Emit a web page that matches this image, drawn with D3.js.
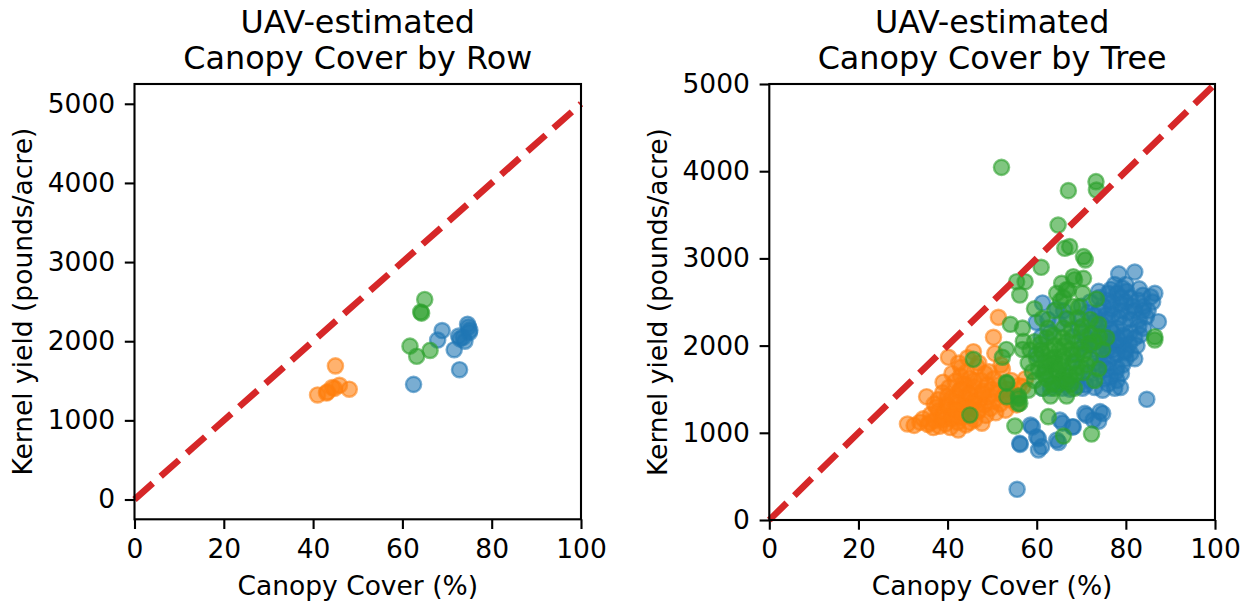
<!DOCTYPE html>
<html>
<head>
<meta charset="utf-8">
<script src="https://cdn.jsdelivr.net/npm/d3@7"></script>
<style>
  html, body { margin: 0; padding: 0; background: #fff; }
  svg { display: block; font-family: "DejaVu Sans", sans-serif; }
</style>
</head>
<body>
<svg id="chart" width="1249" height="607"></svg>
<script>
// ---------------- DATA ----------------
const xTicks = [0, 20, 40, 60, 80, 100];
const yTicks = [0, 1000, 2000, 3000, 4000, 5000];
const oneToOneLine = [[0, 0], [100, 5000]];

// Left panel: canopy cover by row
const rowBlue = [[68.9,2135],[67.9,2015],[71.6,1893],[72.8,1640],[62.5,1455],[74.8,2180],[74.0,2000],[72.6,2065],[73.6,2050],[75.1,2140],[74.6,2215],[72.9,2030],[75.0,2110]];
const rowOrange = [[45.0,1688],[41.0,1321],[43.2,1360],[44.3,1415],[45.9,1443],[48.1,1394],[43.0,1345],[44.8,1404]];
const rowGreen = [[65.0,2527],[64.1,2370],[64.3,2355],[61.7,1938],[63.2,1810],[66.2,1884]];

// Right panel: canopy cover by tree
const treeBlue = [
  [55.6,352],[56.2,879],[58.6,1089],[60.0,955],[60.4,803],[61.1,841],[64.5,917],[65.2,1147],[68.2,1070],
  [70.8,1223],[74.2,1243],[72.7,1147],[84.7,1384],[59.0,1067],[60.4,933],[64.9,889],[65.8,1111],[68.0,1067],
  [71.2,1200],[74.8,1222],[73.9,1133],[56.3,867],
  [78.4,2822],[82.0,2844],[86.5,2600],[85.6,2560],[87.3,2274],[81.1,1911],[77.5,1511],[74.8,1489],[70.3,1511],
  [61.3,1511],[59.9,2267],[61.3,2489],[73.9,2622],[76.6,2644],[80.2,2622],[83.8,2578],[83.8,2400],[82.9,2222],
  [82.0,2089],[78.4,2000],[75.7,1733],[76.6,1644],[79.3,1778],[71.6,1689],[68.5,1600],[65.8,1511],[63.1,1511],
  [72.0,2000],[73.0,2200],[74.0,2400],[75.0,2100],[76.0,2300],[77.0,2500],[78.0,2200],[79.0,2400],[80.0,2100],
  [81.0,2300],[77.0,1950],[79.0,2000],[75.0,1850],[73.0,1800],[71.0,2100],[70.0,2300],[74.0,2550],[76.0,2050],
  [78.0,2600],[80.0,2500],[82.0,2400],[81.0,2550],[83.0,2300],[84.0,2450],[76.0,1800],[78.0,1750],[80.0,1850],
  [74.0,1700],[72.0,1600],[70.0,1750],[69.0,1900],[68.0,2100],[67.0,2300],[66.0,2400],[65.0,2250],[63.0,2150],
  [61.0,2100],[60.0,1900],[62.0,1700],[64.0,1550],[66.0,1650],[68.0,1800],[71.0,1550],[73.0,1520],[76.0,1560],
  [78.0,1600],[79.0,1680],[77.0,2150],[75.0,2450],[73.0,2350],[79.5,2250],[81.0,2150],[82.5,2000],[84.0,2200],
  [85.0,2400],[86.0,2500],[83.0,2650],[80.0,2700],[77.5,2700],[76.0,2600],[72.0,2500],[70.0,2450],[71.0,1950],
  [74.0,1900],[78.0,1900],[80.0,1950],[82.0,1850],[75.5,2000],[73.5,2050],[77.0,2350],[79.0,2550],
  [74.5,2250],[76.5,2180],[78.5,2320],[80.5,2380],[77.5,2050],[75.5,2350],[79.5,2120],[81.5,2450],[76.8,2420],
  [78.8,2480],[73.2,2280],[74.8,2150],[77.2,1880],[79.8,1920],[72.5,2150],[75.8,1950],[80.8,2020],[83.2,2120],
  [76.2,2520],[78.2,2080],[73.8,1980],[71.5,2380],[69.5,2200],[70.8,2020],[82.8,2520],[84.6,2330],[79.2,2660],
  [74.2,1780],[77.8,1700],[75.2,1620],[66.5,1560],[69.2,1540],[62.5,2300],[64.5,2420],[67.5,1500],[78.8,1520]
];
const treeOrange = [
  [31.0,1101],[32.5,1085],[33.8,1120],[34.5,1160],[35.3,1414],[35.6,1095],[36.2,1210],[36.8,1060],[37.1,1140],
  [37.5,1290],[37.9,1380],[38.2,1075],[38.6,1180],[38.9,1460],[39.2,1240],[39.5,1100],[39.8,1330],[40.2,1866],
  [40.3,1520],[40.6,1060],[40.9,1160],[41.1,1410],[41.4,1270],[41.7,1590],[42.0,1350],[42.3,1120],[42.4,1032],
  [42.6,1480],[42.9,1650],[43.1,1220],[43.4,1310],[43.6,1560],[43.9,1400],[44.1,1090],[44.3,1700],[44.5,1190],
  [44.8,1450],[45.0,1620],[45.2,1280],[45.5,1350],[45.8,1930],[45.9,1530],[46.1,1150],[46.4,1420],[46.6,1760],
  [46.8,1250],[47.0,1800],[47.2,1380],[47.5,1600],[47.7,1110],[47.9,1480],[48.2,1320],[48.4,1680],[48.6,1200],
  [48.9,1550],[49.1,1410],[49.3,1700],[49.6,1280],[49.9,1500],[50.1,1360],[50.3,2095],[50.4,1620],[50.6,1911],
  [50.8,1230],[51.0,1450],[51.4,2324],[51.5,1550],[51.8,1330],[52.0,1780],[52.3,1728],[52.6,1420],[53.0,1260],
  [53.3,1500],[53.8,1380],[54.3,1600],[54.8,1450],[55.5,1320],[56.0,1540],[56.9,1529],[57.5,1620],
  [38.0,1250],[39.0,1150],[40.0,1300],[41.0,1200],[42.0,1400],[43.0,1500],[44.0,1300],[45.0,1450],[46.0,1350],
  [47.0,1250],[44.0,1550],[42.0,1250],[40.0,1420],[46.0,1600],[48.0,1450],[43.0,1180],[45.0,1120],[37.0,1330],
  [36.0,1120],[39.0,1580],[41.0,1680],[43.0,1750],[44.5,1860],[42.5,1800]
];
const treeGreen = [
  [52.1,4044],[67.1,3777],[73.3,3880],[73.4,3784],[64.8,3383],[66.3,3116],[67.4,3135],[70.5,3020],[70.9,2982],
  [61.0,2898],[55.5,2733],[57.4,2733],[56.2,2580],[68.2,2790],[70.5,2771],[65.6,2714],[67.1,2637],[45.8,1843],
  [45.0,1204],[55.1,1078],[62.6,1185],[66.0,963],[72.3,986],[86.5,2102],[86.5,2064],[53.3,1567],[56.0,1395],
  [56.2,1338],[53.3,1414],
  [54.1,2244],[56.8,2200],[59.5,2422],[61.3,2311],[65.3,2511],[66.7,2644],[68.5,2756],[70.3,2600],[73.4,2533],
  [69.4,2444],[64.0,2400],[66.7,2311],[70.3,2222],[73.9,2244],[75.7,2089],[73.0,2044],[69.4,2044],[65.8,2089],
  [62.2,2089],[59.5,2044],[56.8,1956],[53.2,1956],[52.3,1867],[58.1,1800],[60.4,1733],[63.1,1778],[65.8,1822],
  [68.5,1822],[71.2,1778],[73.9,1733],[59.5,1600],[62.2,1622],[64.9,1556],[67.6,1556],[70.3,1689],[66.7,1422],
  [68.5,1511],[64.0,1511],[61.3,1511],[53.2,1578],[55.9,1422],[55.9,1333],[74.8,1956],[72.1,2133],[67.6,1956],
  [64.0,1867],[61.3,1911],[64.9,1689],[58.1,1489],[63.1,1422],
  [62.0,1750],[63.5,1850],[65.0,1950],[66.5,1700],[64.0,2000],[61.0,1950],[67.0,2050],[68.0,1900],[63.0,1650],
  [65.5,1600],[69.0,1750],[60.0,1850],[58.5,1950],[62.5,2200],[66.0,2200],[64.5,2600],[66.0,2550],[68.0,2450],
  [72.0,2300],[70.0,2150],[57.0,2050],[59.0,1700],[61.5,1680],[64.0,1800],[66.0,1880],[67.5,1650],[70.5,1900],
  [72.0,1850],[74.0,2100],[73.0,1600],
  [62.8,1950],[64.6,1720],[66.2,2000],[68.8,1680],[63.8,2120],[67.8,2180],[61.8,1820],[65.2,1780],[69.8,1960],
  [71.8,2020],[60.8,2020],[66.8,1600],[63.4,1560],[69.2,2320]
];

const seriesColors = ["#1f77b4", "#ff7f0e", "#2ca02c"];
const lineColor = "#d62728";

// ---------------- DRAW ----------------
const svg = d3.select("#chart");
const TICK = 9.7, PAD = 9.7, FS = 26.5, TFS = 31.8;

function drawPanel(cfg) {
  const x = d3.scaleLinear().domain([0, 100]).range([cfg.left, cfg.right]);
  const y = d3.scaleLinear().domain(cfg.yDomain).range([cfg.bottom, cfg.top]);
  const g = svg.append("g");

  // scatter series (blue, orange, green order)
  cfg.series.forEach((data, i) => {
    g.append("g").selectAll("circle").data(data).join("circle")
      .attr("cx", d => x(d[0])).attr("cy", d => y(d[1])).attr("r", 7.6)
      .attr("fill", seriesColors[i]).attr("fill-opacity", 0.6)
      .attr("stroke", seriesColors[i]).attr("stroke-opacity", 0.6).attr("stroke-width", 2.4);
  });

  // 1:1 dashed line
  g.append("path")
    .attr("d", d3.line().x(d => x(d[0])).y(d => y(d[1]))(oneToOneLine))
    .attr("fill", "none").attr("stroke", lineColor).attr("stroke-width", 6.6)
    .attr("stroke-dasharray", "24.4,10.6");

  // axes
  const xa = g.append("g").attr("transform", `translate(0,${cfg.bottom})`)
    .call(d3.axisBottom(x).tickValues(xTicks).tickSize(TICK).tickPadding(PAD).tickSizeOuter(0));
  const ya = g.append("g").attr("transform", `translate(${cfg.left},0)`)
    .call(d3.axisLeft(y).tickValues(yTicks).tickFormat(d3.format("d")).tickSize(TICK).tickPadding(PAD).tickSizeOuter(0));
  [xa, ya].forEach(a => {
    a.select(".domain").remove();
    a.selectAll("line").attr("stroke", "#000").attr("stroke-width", 2.1);
    a.selectAll("text").attr("fill", "#000").style("font-size", FS + "px").style("font-family", "DejaVu Sans");
  });

  // frame
  g.append("rect").attr("x", cfg.left).attr("y", cfg.top)
    .attr("width", cfg.right - cfg.left).attr("height", cfg.bottom - cfg.top)
    .attr("fill", "none").attr("stroke", "#000").attr("stroke-width", 2.1);

  const cx = (cfg.left + cfg.right) / 2;
  // titles
  cfg.title.forEach((t, i) => {
    g.append("text").attr("x", cx).attr("y", 33 + i * 36).attr("text-anchor", "middle")
      .style("font-size", TFS + "px").attr("fill", "#000").text(t);
  });
  // x label
  g.append("text").attr("x", cx).attr("y", 595).attr("text-anchor", "middle")
    .style("font-size", FS + "px").attr("fill", "#000").text("Canopy Cover (%)");
  // y label
  const cy = (cfg.top + cfg.bottom) / 2;
  g.append("text").attr("transform", `translate(${cfg.left - 102.5},${cy}) rotate(-90)`)
    .attr("text-anchor", "middle").style("font-size", FS + "px").attr("fill", "#000")
    .text("Kernel yield (pounds/acre)");
}

drawPanel({
  left: 134.5, right: 581, top: 84, bottom: 519.3, yDomain: [-250, 5250],
  series: [rowBlue, rowOrange, rowGreen],
  title: ["UAV-estimated", "Canopy Cover by Row"]
});
drawPanel({
  left: 769.3, right: 1215, top: 84, bottom: 520, yDomain: [0, 5000],
  series: [treeBlue, treeOrange, treeGreen],
  title: ["UAV-estimated", "Canopy Cover by Tree"]
});
</script>
</body>
</html>
